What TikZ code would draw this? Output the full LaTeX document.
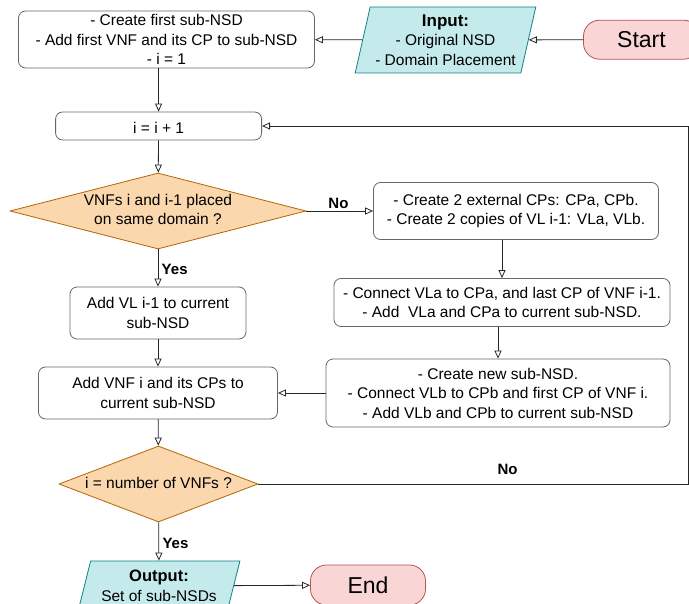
\documentclass[tikz,border=0pt]{standalone}
\usepackage{fontspec}
\setmainfont{Liberation Sans}
\usetikzlibrary{arrows.meta,shapes.geometric}
\definecolor{condfill}{HTML}{FAD7AC}
\definecolor{condline}{HTML}{B46504}
\definecolor{iofill}{HTML}{C4EAEB}
\definecolor{ioline}{HTML}{0E8088}
\definecolor{termfill}{HTML}{F9D6D5}
\definecolor{termline}{HTML}{B85450}
\newcommand{\condtext}[1]{\raisebox{-0.25em}[0pt][0pt]{\makebox[0pt]{\begin{tabular}{@{}c@{}}#1\end{tabular}}}}
\tikzset{
    >={Triangle[open,length=8pt,width=7pt]},
    block/.style = {
        draw=black!60,
        shape=rectangle,
        rounded corners=7pt,
        fill=white,
        align=center,
        inner sep=1pt,
        execute at begin node={\rule{0pt}{15.5pt}},
        line width=0.8pt
    },
    cond/.style = {
        draw=condline,
        fill=condfill,
        shape=diamond,
        inner sep=0pt,
        line width=0.8pt
    },
    io/.style = {
        draw=ioline,
        fill=iofill,
        shape=trapezium,
        trapezium stretches=true,
        align=center,
        inner sep=1pt,
        line width=0.8pt
    },
    term/.style = {
        draw=termline,
        fill=termfill,
        shape=rectangle,
        rounded corners=16pt,
        font=\fontsize{23}{27}\selectfont,
        line width=0.8pt
    },
    lbl/.style = {
        font=\bfseries\fontsize{15}{18}\selectfont
    },
}

\begin{document}
\begin{tikzpicture}[x=1pt, y=-1pt, font=\fontsize{15.5}{19.5}\selectfont, line width=0.8pt, draw=black!85]
            \useasboundingbox (0,0) rectangle (689,604);
            \clip (0,0) rectangle (689,604);

            \node[term, minimum width=116pt, minimum height=39pt] (start) at (641.5,39.7) {Start};
            \node[io, trapezium left angle=75, trapezium right angle=105, minimum width=181pt, minimum height=66pt] (input) at (445.5,40) {{\bfseries\fontsize{17}{20}\selectfont Input:}\\- Original NSD\\- Domain Placement};
            \node[block, minimum width=296pt, minimum height=57pt] (init) at (166.5,39.5) {- Create first sub-NSD\\- Add first VNF and its CP to sub-NSD\\- i = 1};
            \node[block, minimum width=206pt, minimum height=28pt] (inc) at (158.6,126) {i = i + 1};
            \node[cond, minimum width=296pt, minimum height=76pt] (cond1) at (158,211) {\condtext{VNFs i and i-1 placed\\on same domain ?}};
            \node[block, minimum width=285pt, minimum height=57pt] (split) at (516,211) {- Create 2 external CPs: CPa, CPb.\\- Create 2 copies of VL i-1: VLa, VLb.};
            \node[block, minimum width=336pt, minimum height=48pt] (conna) at (502,302.5) {- Connect VLa to CPa, and last CP of VNF i-1.\\- Add \ VLa and CPa to current sub-NSD.};
            \node[block, minimum width=344pt, minimum height=68pt] (newsub) at (498,393) {- Create new sub-NSD.\\- Connect VLb to CPb and first CP of VNF i.\\- Add VLb and CPb to current sub-NSD};
            \node[block, minimum width=176pt, minimum height=52pt] (addvl) at (158,313) {Add VL i-1 to current\\sub-NSD};
            \node[block, minimum width=239pt, minimum height=52pt] (addvnf) at (158,393) {Add VNF i and its CPs to\\current sub-NSD};
            \node[cond, minimum width=199pt, minimum height=76pt] (cond2) at (158.5,484) {\condtext{i = number of VNFs ?}};
            \node[io, trapezium left angle=72, trapezium right angle=108, minimum width=162pt, minimum height=50pt] (output) at (159,586) {{\bfseries\fontsize{16.5}{20}\selectfont Output:}\\Set of sub-NSDs};
            \node[term, minimum width=115pt, minimum height=40pt] (end) at (368,585) {End};

            \coordinate (loop) at (688,126);

            \path[draw, ->] (start) -- (input);
            \path[draw, ->] (input) -- (init);
            \path[draw, ->] (init.south -| inc) -- (inc);
            \path[draw, ->] (inc) -- (cond1);
            \path[draw, ->] (cond1) -- node[lbl, anchor=south, inner sep=2pt, pos=0.48] {No} (split);
            \path[draw, ->] (cond1) -- node[lbl, right, pos=0.55] {Yes} (addvl);
            \path[draw, ->] (split.south -| conna) -- (conna);
            \path[draw, ->] (conna.south -| newsub) -- (newsub);
            \path[draw, ->] (newsub) -- (addvnf);
            \path[draw, ->] (addvl) -- (addvnf);
            \path[draw, ->] (addvnf) -- (cond2);
            \path[draw, ->] (cond2.east) -| node[lbl, above=6pt, pos=0.29] {No} (loop) -- (inc.east);
            \path[draw, ->] (cond2) -- node[lbl, right, pos=0.55] {Yes} (output);
            \path[draw, ->] (output) -- (end);
        \end{tikzpicture}
\end{document}
